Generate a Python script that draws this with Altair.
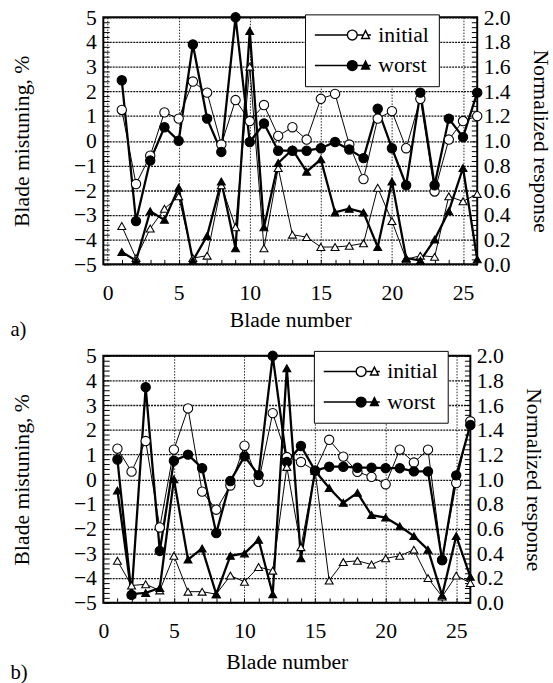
import altair as alt
import pandas as pd

# ---------------- data ----------------
blade = list(range(1, 27))

# panel a)
a_initial_mistuning = [1.25, -1.75, -0.6, 1.15, 0.9, 2.4, 1.95, -0.15, 1.65, 0.8, 1.45, 0.2, 0.55,
                       0.05, 1.7, 1.9, -0.15, -1.55, 0.9, 1.2, -0.3, 1.7, -2.05, 0.05, 0.8, 1.0]
a_worst_mistuning = [2.45, -3.25, -0.8, 0.55, 0.0, 3.9, 0.9, -0.45, 5.0, -0.05, 0.7, -0.4, -0.4,
                     -0.4, -0.3, -0.05, -0.35, -0.7, 1.3, -0.3, -1.8, 1.95, -1.8, 0.9, 0.15, 1.95]
a_initial_response = [0.31, 0.05, 0.29, 0.45, 0.55, 0.05, 0.07, 0.64, 0.30, 1.6, 0.13, 0.78, 0.24,
                      0.22, 0.14, 0.14, 0.15, 0.17, 0.62, 0.35, 0.04, 0.07, 0.06, 0.55, 0.51, 0.57]
a_worst_response = [0.10, 0.03, 0.43, 0.36, 0.62, 0.03, 0.23, 0.67, 0.13, 1.89, 0.30, 0.82, 0.93,
                    0.75, 0.85, 0.42, 0.45, 0.42, 0.14, 0.67, 0.05, 0.03, 0.2, 0.43, 0.78, 0.04]

# panel b)
b_initial_mistuning = [1.24, 0.31, 1.55, -1.95, 1.2, 2.87, -0.5, -1.23, -0.25, 1.36, -0.1, 2.68, 0.9,
                       0.7, 0.35, 1.6, 0.92, 0.3, 0.1, -0.2, 1.2, 0.68, 1.2, -3.27, -0.15, 2.35]
b_worst_mistuning = [0.8, -4.68, 3.73, -2.9, 0.75, 1.0, 0.45, -2.18, -0.07, 0.93, 0.17, 5.0, 0.7,
                     1.35, 0.35, 0.51, 0.51, 0.47, 0.47, 0.45, 0.45, 0.32, 0.32, -3.27, 0.16, 2.2]
b_initial_response = [0.34, 0.14, 0.15, 0.10, 0.38, 0.09, 0.09, 0.07, 0.22, 0.17, 0.29, 0.26, 1.1,
                      0.45, 1.07, 0.18, 0.33, 0.34, 0.31, 0.36, 0.38, 0.43, 0.2, 0.05, 0.22, 0.16]
b_worst_response = [0.91, 0.07, 0.08, 0.12, 1.0, 0.35, 0.44, 0.07, 0.38, 0.40, 0.51, 0.07, 1.9,
                    0.36, 1.07, 0.93, 0.81, 0.89, 0.71, 0.69, 0.62, 0.54, 0.43, 0.06, 0.54, 0.21]

series_names = ["initial", "worst"]

# tick values
x_major = [0, 5, 10, 15, 20, 25]
x_minor = list(range(1, 26))
mis_major = list(range(-5, 6))
mis_minor = [round(-5 + 0.2 * i, 1) for i in range(51)]
resp_major = [round(0.2 * i, 1) for i in range(11)]
resp_minor = [round(0.04 * i, 2) for i in range(51)]

FONT = "Liberation Serif"
TXT = dict(labelFont=FONT, titleFont=FONT, labelFontSize=22, titleFontSize=22,
           labelColor="black", titleColor="black", titleFontWeight="normal",
           labelFontWeight="normal")

# legend symbol: line with a circle and a triangle
LEGEND_PATH = ("M-2.85,0H0.45M1.45,0H2.08M2.52,0H2.85"
               "M1.45,0A0.5,0.5,0,1,1,0.45,0A0.5,0.5,0,1,1,1.45,0Z"
               "M2.3,-0.45L2.7,0.35L1.9,0.35Z")


def panel(init_mis, worst_mis, init_resp, worst_resp, width, xdom, lx, ly, tag,
          lab_pad, tit_pad):
    mis = pd.DataFrame({"blade": blade * 2, "value": init_mis + worst_mis,
                        "series": ["initial"] * 26 + ["worst"] * 26})
    resp = pd.DataFrame({"blade": blade * 2, "value": init_resp + worst_resp,
                         "series": ["initial"] * 26 + ["worst"] * 26})

    xs = alt.Scale(domain=xdom, nice=False, zero=False)
    ym = alt.Scale(domain=[-5, 5], nice=False, zero=False)
    yr = alt.Scale(domain=[0, 2], nice=False, zero=False)

    ax_x_main = alt.Axis(values=x_major, title="Blade number", orient="bottom",
                         grid=True, gridDash=[1.5, 1.5], gridColor="#222", gridWidth=1,
                         ticks=False, tickSize=0, domain=False, labelPadding=lab_pad,
                         titlePadding=tit_pad, labelFlush=False, **TXT)
    ax_x_minor = alt.Axis(values=x_minor, labels=False, title=None, orient="bottom",
                          grid=False, domain=False, ticks=True, tickSize=5, offset=-5,
                          tickColor="black", tickWidth=1)
    ax_y_main = alt.Axis(values=mis_major, title="Blade mistuning, %", orient="left",
                         grid=True, gridDash=[2, 1], gridColor="#111", gridWidth=1.3,
                         ticks=False, tickSize=0, domain=False, labelPadding=7,
                         titlePadding=41, **TXT)
    ax_y_minor = alt.Axis(values=mis_minor, labels=False, title=None, orient="left",
                          grid=False, domain=False, ticks=True, tickSize=6, offset=-6,
                          tickColor="black", tickWidth=1)
    ax_r_main = alt.Axis(values=resp_major, format=".1f", title="Normalized response",
                         orient="right", grid=False, ticks=False, tickSize=0, domain=False,
                         labelPadding=6, titlePadding=19, **TXT)
    ax_r_minor = alt.Axis(values=resp_minor, labels=False, title=None, orient="right",
                          grid=False, domain=False, ticks=True, tickSize=6, offset=-6,
                          tickColor="black", tickWidth=1)

    leg = alt.Legend(title=None, orient="none", legendX=lx, legendY=ly,
                     symbolType=LEGEND_PATH, symbolSize=400, symbolOffset=17.5,
                     labelOffset=25, symbolStrokeColor="black", symbolStrokeWidth=1.4,
                     symbolOpacity=1, labelFont=FONT, labelFontSize=22, labelColor="black",
                     strokeColor="black", fillColor="white", padding=10, rowPadding=9,
                     cornerRadius=0)
    fill_scale = alt.Scale(domain=series_names, range=["white", "black"])

    def X(axis):
        return alt.X("blade:Q", scale=xs, axis=axis)

    l1 = alt.Chart(mis).transform_filter(alt.datum.series == "initial").mark_line(
        color="black", strokeWidth=1).encode(
        x=X(ax_x_main), y=alt.Y("value:Q", scale=ym, axis=ax_y_main))
    l2 = alt.Chart(mis).transform_filter(alt.datum.series == "worst").mark_line(
        color="black", strokeWidth=2.3).encode(
        x=X(ax_x_minor), y=alt.Y("value:Q", scale=ym, axis=ax_y_minor))
    l3 = alt.Chart(resp).transform_filter(alt.datum.series == "initial").mark_line(
        color="black", strokeWidth=1).encode(
        x=X(None), y=alt.Y("value:Q", scale=yr, axis=ax_r_main))
    l4 = alt.Chart(resp).transform_filter(alt.datum.series == "worst").mark_line(
        color="black", strokeWidth=2.3).encode(
        x=X(None), y=alt.Y("value:Q", scale=yr, axis=ax_r_minor))
    p1 = alt.Chart(mis).mark_point(shape="circle", filled=True, size=90, stroke="black",
                                   strokeWidth=1.1, opacity=1).encode(
        x=X(None), y=alt.Y("value:Q", scale=ym, axis=None),
        fill=alt.Fill("series:N", scale=fill_scale, legend=leg))
    p2 = alt.Chart(resp).mark_point(shape="triangle-up", filled=True, size=65,
                                    stroke="black", strokeWidth=1.1, opacity=1).encode(
        x=X(None), y=alt.Y("value:Q", scale=yr, axis=None),
        fill=alt.Fill("series:N", scale=fill_scale, legend=leg))

    return alt.layer(l1, l2, l3, l4, p1, p2).resolve_scale(
        x="independent", y="independent").properties(
        width=width, height=251,
        title=alt.TitleParams(text=tag, orient="bottom", anchor="start", frame="bounds",
                              font=FONT, fontSize=21, fontWeight="normal", color="black",
                              offset=-11))


pa = panel(a_initial_mistuning, a_worst_mistuning, a_initial_response, a_worst_response,
           380, [-0.3, 26], 205, -3, "a)", 19, 6)
pb = panel(b_initial_mistuning, b_worst_mistuning, b_initial_response, b_worst_response,
           373, [0, 26], 214, -5, "b)", 18, 11)

chart = alt.vconcat(pa, pb, spacing=3).resolve_scale(
    fill="independent").resolve_legend(fill="independent").properties(
    padding={"left": 9, "top": 0, "right": 0, "bottom": 0},
    background="white"
).configure_view(stroke="black", strokeWidth=2)

chart.save("out.html", embed_options={"renderer": "svg", "actions": False})
